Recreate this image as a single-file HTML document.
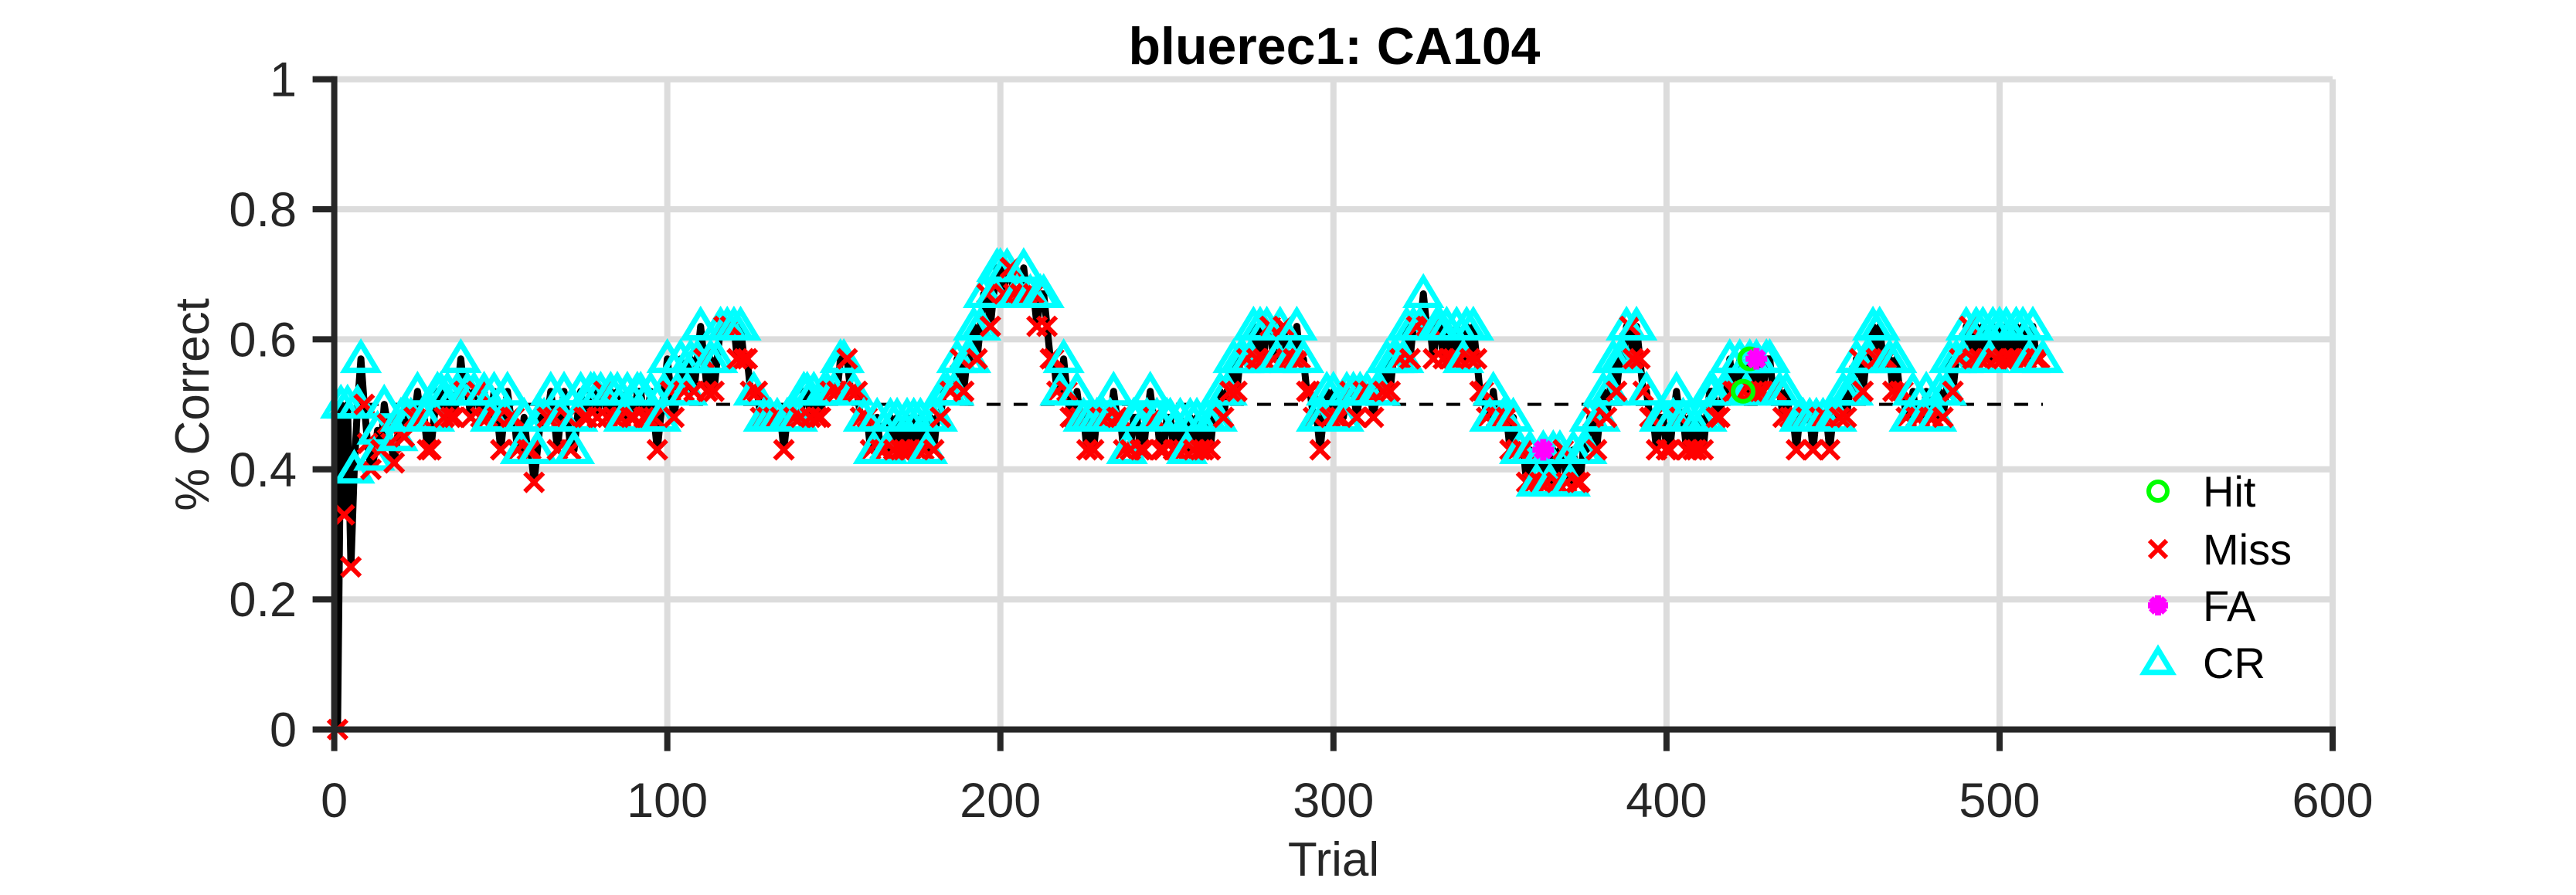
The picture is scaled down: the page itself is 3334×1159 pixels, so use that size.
<!DOCTYPE html>
<html><head><meta charset="utf-8"><style>
html,body{margin:0;padding:0;background:#fff;}
svg{display:block;font-family:"Liberation Sans",Arial,sans-serif;}
</style></head><body>
<svg id="chart" width="3334" height="1159" viewBox="0 0 3334 1159" xmlns="http://www.w3.org/2000/svg">
<rect x="0" y="0" width="3334" height="1159" fill="#fff"/>
<g id="grid"></g>
<g id="ref"></g>
<g id="series"></g>
<g id="axes"></g>
<text x="1727" y="83" text-anchor="middle" font-size="68" font-weight="bold" fill="#000" textLength="533" lengthAdjust="spacingAndGlyphs">bluerec1: CA104</text>
<text x="1726" y="1134" text-anchor="middle" font-size="62" fill="#262626">Trial</text>
<text x="0" y="0" transform="translate(270,524) rotate(-90)" text-anchor="middle" font-size="62" fill="#262626">% Correct</text>
<g id="legend"></g>
</svg>
<script>
const xTicks=[0,100,200,300,400,500,600];
const yTicks=[0,0.2,0.4,0.6,0.8,1];
const yTickLabels=["0","0.2","0.4","0.6","0.8","1"];
const pctCorrect=[
0,0.5,0.33,0.5,0.25,0.4,0.5,0.57,0.5,0.44,
0.4,0.42,0.46,0.43,0.5,0.47,0.44,0.41,0.45,0.48,
0.45,0.48,0.48,0.48,0.52,0.48,0.48,0.43,0.43,0.48,
0.52,0.52,0.48,0.52,0.48,0.48,0.52,0.57,0.52,0.52,
0.48,0.52,0.52,0.48,0.52,0.48,0.48,0.52,0.48,0.43,
0.48,0.52,0.48,0.48,0.43,0.43,0.48,0.43,0.43,0.38,
0.43,0.48,0.48,0.48,0.52,0.48,0.43,0.48,0.52,0.48,
0.43,0.43,0.48,0.52,0.48,0.48,0.52,0.52,0.48,0.52,
0.52,0.48,0.52,0.48,0.52,0.48,0.48,0.52,0.48,0.48,
0.52,0.52,0.48,0.48,0.52,0.48,0.43,0.48,0.52,0.57,
0.52,0.48,0.52,0.57,0.52,0.52,0.57,0.52,0.57,0.62,
0.57,0.52,0.57,0.52,0.57,0.62,0.62,0.62,0.62,0.62,
0.57,0.62,0.57,0.57,0.52,0.52,0.52,0.48,0.48,0.48,
0.48,0.48,0.48,0.48,0.43,0.48,0.48,0.48,0.48,0.48,
0.52,0.52,0.48,0.52,0.48,0.48,0.52,0.52,0.52,0.52,
0.52,0.57,0.57,0.57,0.52,0.52,0.52,0.48,0.48,0.48,
0.43,0.43,0.48,0.43,0.43,0.43,0.48,0.43,0.48,0.43,
0.43,0.48,0.43,0.48,0.43,0.48,0.43,0.43,0.48,0.43,
0.48,0.48,0.52,0.52,0.52,0.52,0.57,0.57,0.52,0.57,
0.57,0.62,0.57,0.62,0.67,0.67,0.62,0.67,0.71,0.71,
0.67,0.71,0.71,0.67,0.67,0.67,0.71,0.67,0.67,0.67,
0.62,0.67,0.67,0.62,0.57,0.57,0.52,0.52,0.57,0.52,
0.48,0.48,0.52,0.48,0.48,0.43,0.48,0.43,0.48,0.48,
0.48,0.48,0.48,0.52,0.48,0.48,0.43,0.43,0.43,0.48,
0.48,0.43,0.43,0.48,0.52,0.48,0.48,0.43,0.43,0.48,
0.48,0.43,0.43,0.48,0.43,0.43,0.48,0.43,0.48,0.43,
0.43,0.48,0.43,0.48,0.48,0.52,0.48,0.52,0.52,0.57,
0.52,0.57,0.57,0.57,0.57,0.62,0.57,0.62,0.57,0.62,
0.62,0.57,0.57,0.62,0.62,0.57,0.57,0.57,0.62,0.57,
0.57,0.52,0.52,0.48,0.48,0.43,0.48,0.52,0.48,0.52,
0.48,0.48,0.48,0.52,0.52,0.52,0.48,0.52,0.52,0.52,
0.52,0.48,0.52,0.52,0.52,0.57,0.52,0.57,0.57,0.57,
0.57,0.62,0.57,0.62,0.62,0.62,0.67,0.62,0.62,0.57,
0.62,0.62,0.57,0.62,0.57,0.57,0.62,0.57,0.57,0.62,
0.57,0.62,0.57,0.52,0.52,0.48,0.48,0.52,0.48,0.48,
0.48,0.48,0.43,0.48,0.43,0.43,0.43,0.38,0.43,0.38,
0.38,0.38,0.43,0.38,0.38,0.43,0.38,0.43,0.43,0.38,
0.38,0.43,0.38,0.38,0.43,0.43,0.48,0.48,0.43,0.48,
0.52,0.48,0.52,0.57,0.52,0.57,0.57,0.62,0.62,0.57,
0.62,0.57,0.52,0.52,0.48,0.48,0.43,0.48,0.48,0.43,
0.43,0.48,0.52,0.48,0.48,0.43,0.48,0.43,0.43,0.48,
0.43,0.48,0.52,0.52,0.48,0.48,0.52,0.52,0.57,0.52,
0.52,0.57,0.52,0.52,0.57,0.52,0.57,0.52,0.52,0.57,
0.57,0.52,0.52,0.52,0.48,0.52,0.48,0.48,0.43,0.48,
0.48,0.48,0.48,0.43,0.48,0.48,0.48,0.48,0.43,0.48,
0.48,0.48,0.52,0.48,0.52,0.52,0.57,0.57,0.52,0.57,
0.57,0.62,0.57,0.62,0.57,0.57,0.57,0.52,0.57,0.52,
0.52,0.48,0.48,0.52,0.48,0.48,0.48,0.52,0.48,0.48,
0.48,0.52,0.48,0.52,0.57,0.52,0.57,0.57,0.57,0.62,
0.62,0.57,0.62,0.57,0.62,0.57,0.57,0.62,0.57,0.62,
0.57,0.62,0.57,0.57,0.62,0.57,0.62,0.57,0.57,0.62,0.57,0.57,0.57
];
const hitTrials=[423,425];
const faTrials=[363,427];
const chanceLevel=0.5;

const NS="http://www.w3.org/2000/svg";
const X0=432.6,X1=3019,Y0=944.6,Y1=102.6;
const xs=v=>X0+(v-0)/(600-0)*(X1-X0);
const ys=v=>Y0-(v-0)/(1-0)*(Y0-Y1);
function mk(tag,attrs,parent){const e=document.createElementNS(NS,tag);for(const k in attrs)e.setAttribute(k,attrs[k]);parent.appendChild(e);return e;}
const grid=document.getElementById('grid'),axes=document.getElementById('axes'),series=document.getElementById('series'),ref=document.getElementById('ref'),legend=document.getElementById('legend');

xTicks.forEach(t=>{if(t===0)return;const l=mk('line',{x1:xs(t),x2:xs(t),y1:Y1,y2:Y0,stroke:'#dcdcdc','stroke-width':8},grid);

});
yTicks.forEach(t=>{if(t===0)return;const l=mk('line',{x1:X0,x2:X1,y1:ys(t),y2:ys(t),stroke:'#dcdcdc','stroke-width':8},grid);

});

const dl=mk('line',{x1:xs(1),x2:xs(pctCorrect.length),y1:ys(chanceLevel),y2:ys(chanceLevel),stroke:'#000','stroke-width':4,'stroke-dasharray':'18,17'},ref);



const pts=pctCorrect.map((v,i)=>xs(i+1).toFixed(1)+','+ys(v).toFixed(1)).join(' ');
const pl=mk('polyline',{points:pts,fill:'none',stroke:'#000','stroke-width':9,'stroke-linejoin':'round'},series);



function tri(cx,cy,p,s){s=s||20;return mk('polygon',{points:`${cx},${cy-s} ${cx-s*1.05},${cy+s*0.75} ${cx+s*1.05},${cy+s*0.75}`,fill:'none',stroke:'#00ffff','stroke-width':7},p);}
function cross(cx,cy,p,s){s=s||12;return mk('path',{d:`M${cx-s},${cy-s}L${cx+s},${cy+s}M${cx-s},${cy+s}L${cx+s},${cy-s}`,stroke:'#ff0000','stroke-width':6,fill:'none'},p);}
function circ(cx,cy,p,s){s=s||13;return mk('circle',{cx:cx,cy:cy,r:s,fill:'none',stroke:'#00ff00','stroke-width':6},p);}
function star(cx,cy,p,s){s=s||14;const d=s*0.7;return mk('path',{d:`M${cx-s},${cy}L${cx+s},${cy}M${cx},${cy-s}L${cx},${cy+s}M${cx-d},${cy-d}L${cx+d},${cy+d}M${cx-d},${cy+d}L${cx+d},${cy-d}`,stroke:'#ff00ff','stroke-width':8,fill:'none'},p);}

let flip=false;
pctCorrect.forEach((v,i)=>{
  const cx=xs(i+1),cy=ys(v);
  const prev=i>0?pctCorrect[i-1]:v;
  let isCR;
  if(v>prev)isCR=true;else if(v<prev)isCR=false;else{isCR=flip;flip=!flip;}
  if(i===0)isCR=false;
  const m=isCR?tri(cx,cy,series):cross(cx,cy,series);
  
  
});
hitTrials.forEach(t=>{const m=circ(xs(t),ys(pctCorrect[t-1]),series);

});
faTrials.forEach(t=>{const m=star(xs(t),ys(pctCorrect[t-1]),series);

});

const ya=mk('line',{x1:X0,x2:X0,y1:Y1-4,y2:Y0+4,stroke:'#262626','stroke-width':8},axes);


const xa=mk('line',{x1:X0-4,x2:X1+4,y1:Y0,y2:Y0,stroke:'#262626','stroke-width':8},axes);


xTicks.forEach(t=>{
  const tk=mk('line',{x1:xs(t),x2:xs(t),y1:Y0,y2:Y0+28,stroke:'#262626','stroke-width':8},axes);
  
  
  const tx=mk('text',{x:xs(t),y:1058,'text-anchor':'middle','font-size':63,fill:'#262626'},axes);
  tx.textContent=String(t);
  
  
});
yTicks.forEach((t,i)=>{
  const tk=mk('line',{x1:X0-28,x2:X0,y1:ys(t),y2:ys(t),stroke:'#262626','stroke-width':8},axes);
  
  
  const tx=mk('text',{x:384,y:ys(t)+22,'text-anchor':'end','font-size':63,fill:'#262626'},axes);
  tx.textContent=yTickLabels[i];
  
  
});

const legItems=[["Hit",636,circ,12],["Miss",711,cross,11],["FA",784,star,13],["CR",858,tri,17]];
legItems.forEach(it=>{
  const g=mk('g',{},legend);
  
  
  it[2](2793,it[1],g,it[3]);
  const tx=mk('text',{x:2851,y:it[1]+20,'font-size':56,fill:'#000'},g);
  tx.textContent=it[0];
});
</script>
</body></html>
